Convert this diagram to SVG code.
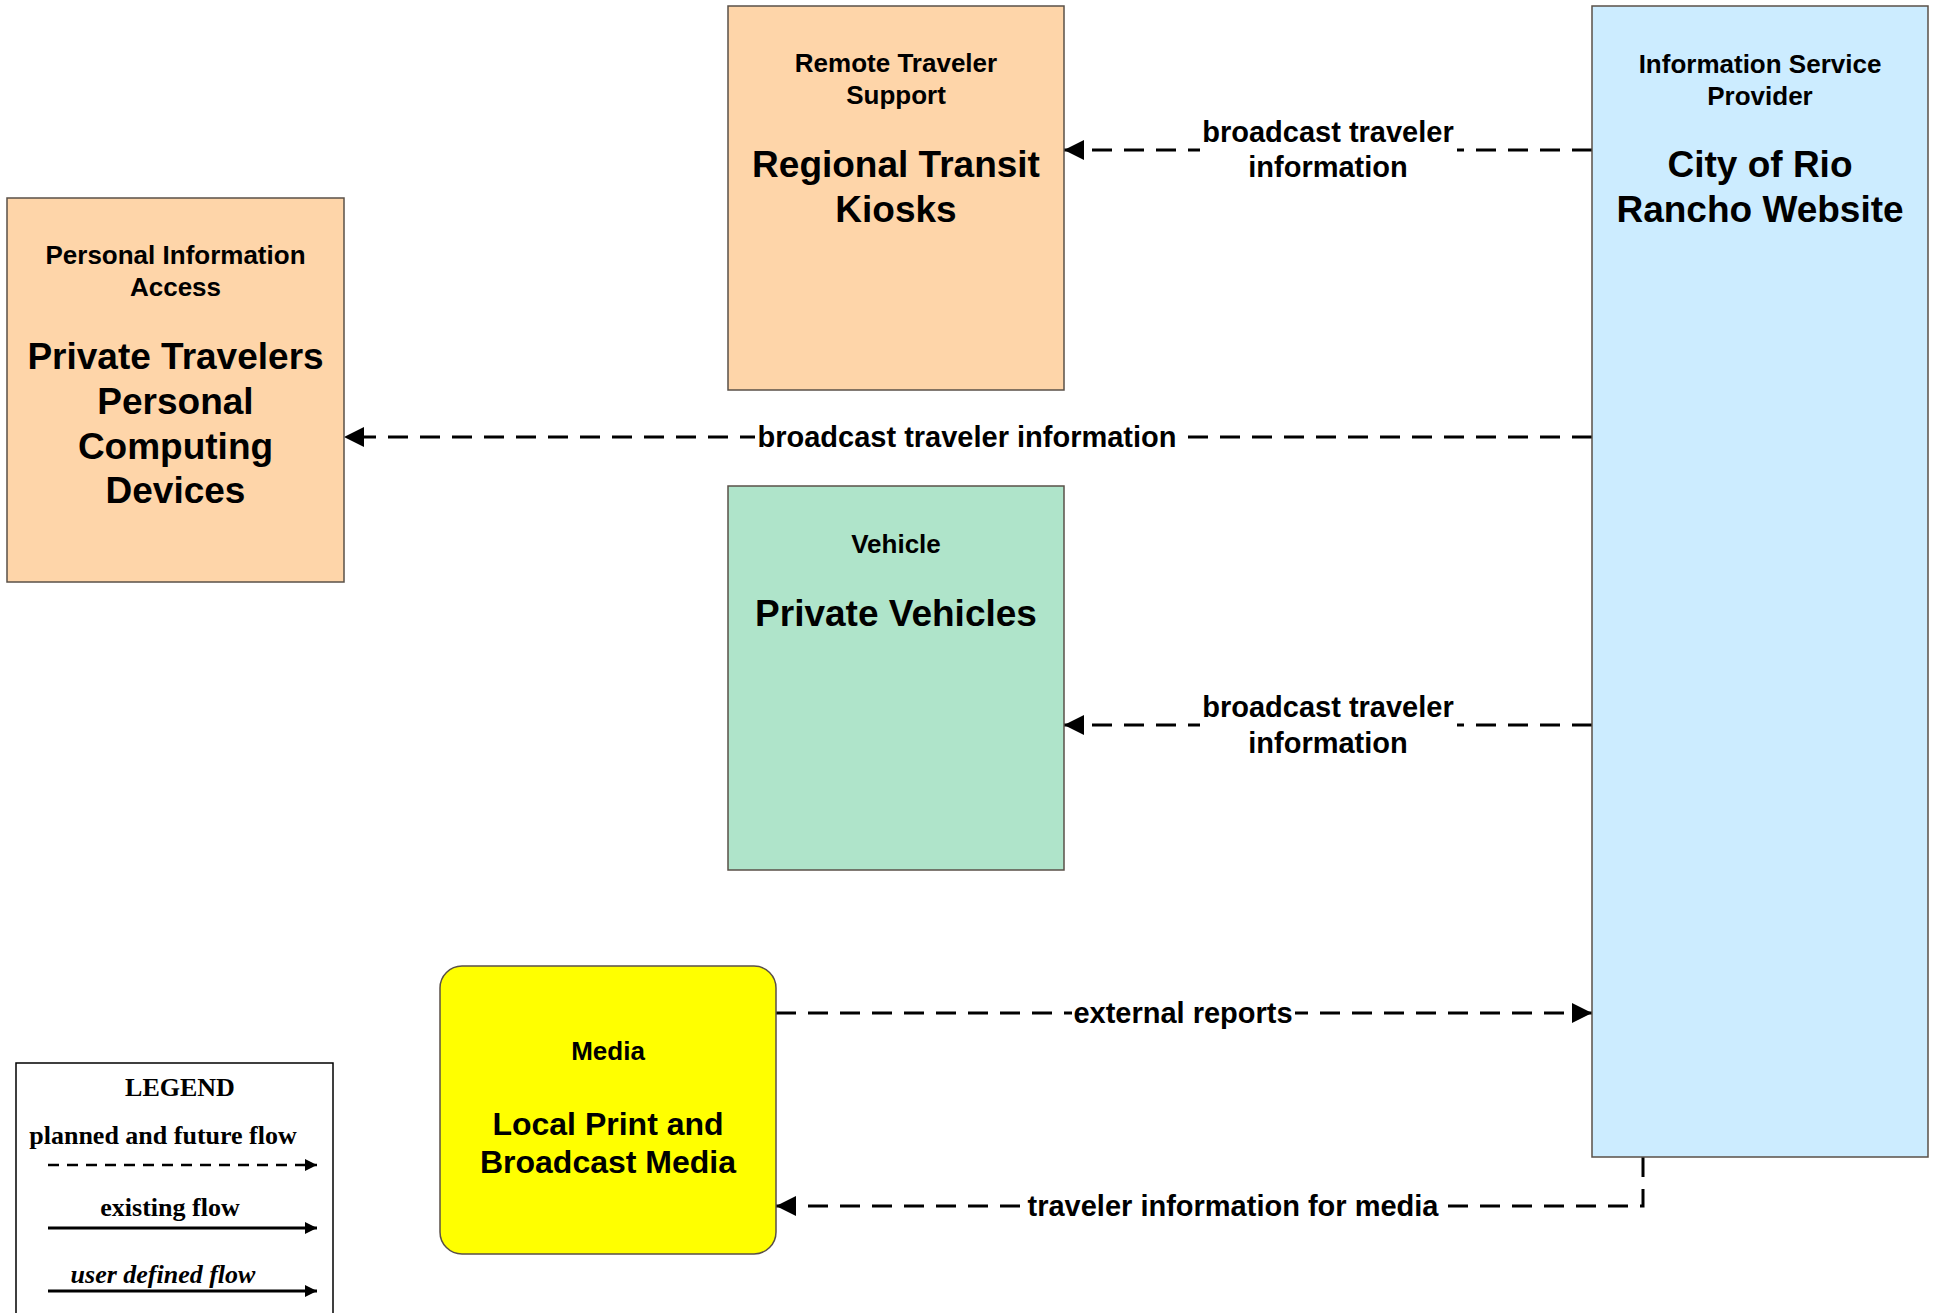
<svg xmlns="http://www.w3.org/2000/svg" width="1935" height="1313" viewBox="0 0 1935 1313">
<style>
.node{stroke:#5a5048;stroke-width:1.5}
.peach{fill:#FED5A9}
.blue{fill:#CCECFF}
.green{fill:#AFE4CA}
.yellow{fill:#FFFF00}
.sm{font-family:"Liberation Sans",Arial,sans-serif;font-weight:bold;font-size:26px;text-anchor:middle;fill:#000}
.bg{font-family:"Liberation Sans",Arial,sans-serif;font-weight:bold;font-size:37px;text-anchor:middle;fill:#000}
.md{font-family:"Liberation Sans",Arial,sans-serif;font-weight:bold;font-size:32px;text-anchor:middle;fill:#000}
.lbl{font-family:"Liberation Sans",Arial,sans-serif;font-weight:bold;font-size:29px;text-anchor:middle;fill:#000}
.flow{fill:none;stroke:#000;stroke-width:3;stroke-dasharray:20 12}
.mask{fill:#fff}
.leg{font-family:"Liberation Serif","Times New Roman",serif;font-weight:bold;font-size:26px;text-anchor:middle;fill:#000}
</style>
<defs>
<marker id="ah" markerUnits="userSpaceOnUse" markerWidth="20" markerHeight="20" viewBox="0 0 18 18" refX="18" refY="9" orient="auto">
<path d="M0,0 L18,9 L0,18 Z" fill="#000"/>
</marker>
<marker id="ahs" markerUnits="userSpaceOnUse" markerWidth="12" markerHeight="12" viewBox="0 0 12 12" refX="12" refY="6" orient="auto">
<path d="M0,0 L12,6 L0,12 Z" fill="#000"/>
</marker>
</defs>
<rect width="1935" height="1313" fill="#fff"/>

<g id="connectors">
<path class="flow" d="M1592,150 H1064" marker-end="url(#ah)"/>
<path class="flow" d="M1592,437 H344" marker-end="url(#ah)"/>
<path class="flow" d="M1592,725 H1064" marker-end="url(#ah)"/>
<path class="flow" d="M776,1013 H1592" marker-end="url(#ah)"/>
<path class="flow" d="M1643,1157 V1206 H776" marker-end="url(#ah)"/>
<g id="labels">
<rect class="mask" x="1200" y="138" width="257" height="24"/>
<text class="lbl" x="1328" y="142">broadcast traveler</text>
<text class="lbl" x="1328" y="177">information</text>
<rect class="mask" x="755" y="424" width="424" height="26"/>
<text class="lbl" x="967" y="447">broadcast traveler information</text>
<rect class="mask" x="1200" y="713" width="257" height="24"/>
<text class="lbl" x="1328" y="717">broadcast traveler</text>
<text class="lbl" x="1328" y="753">information</text>
<rect class="mask" x="1072" y="1000" width="223" height="26"/>
<text class="lbl" x="1183" y="1023">external reports</text>
<rect class="mask" x="1025" y="1193" width="416" height="26"/>
<text class="lbl" x="1233" y="1216">traveler information for media</text>
</g>
</g>

<g id="node-kiosks">
<rect class="node peach" x="728" y="6" width="336" height="384"/>
<text class="sm" x="896" y="72">Remote Traveler</text>
<text class="sm" x="896" y="104">Support</text>
<text class="bg" x="896" y="177">Regional Transit</text>
<text class="bg" x="896" y="222">Kiosks</text>
</g>

<g id="node-website">
<rect class="node blue" x="1592" y="6" width="336" height="1151"/>
<text class="sm" x="1760" y="73">Information Service</text>
<text class="sm" x="1760" y="105">Provider</text>
<text class="bg" x="1760" y="177">City of Rio</text>
<text class="bg" x="1760" y="222">Rancho Website</text>
</g>

<g id="node-personal">
<rect class="node peach" x="7" y="198" width="337" height="384"/>
<text class="sm" x="175.5" y="264">Personal Information</text>
<text class="sm" x="175.5" y="296">Access</text>
<text class="bg" x="175.5" y="369">Private Travelers</text>
<text class="bg" x="175.5" y="414">Personal</text>
<text class="bg" x="175.5" y="459">Computing</text>
<text class="bg" x="175.5" y="503">Devices</text>
</g>

<g id="node-vehicles">
<rect class="node green" x="728" y="486" width="336" height="384"/>
<text class="sm" x="896" y="553">Vehicle</text>
<text class="bg" x="896" y="626">Private Vehicles</text>
</g>

<g id="node-media">
<rect class="node yellow" x="440" y="966" width="336" height="288" rx="22" ry="22"/>
<text class="sm" x="608" y="1060">Media</text>
<text class="md" x="608" y="1135">Local Print and</text>
<text class="md" x="608" y="1173">Broadcast Media</text>
</g>

<g id="legend">
<rect x="16" y="1063" width="317" height="270" fill="#fff" stroke="#000" stroke-width="1.5"/>
<text class="leg" x="180" y="1096">LEGEND</text>
<text class="leg" x="163" y="1144">planned and future flow</text>
<path d="M48,1165 H317" stroke="#000" stroke-width="2.5" stroke-dasharray="11 8" fill="none" marker-end="url(#ahs)"/>
<text class="leg" x="170" y="1216">existing flow</text>
<path d="M48,1228 H317" stroke="#000" stroke-width="3" fill="none" marker-end="url(#ahs)"/>
<text class="leg" x="163" y="1283" font-style="italic">user defined flow</text>
<path d="M48,1291 H317" stroke="#000" stroke-width="3" fill="none" marker-end="url(#ahs)"/>
</g>
</svg>
